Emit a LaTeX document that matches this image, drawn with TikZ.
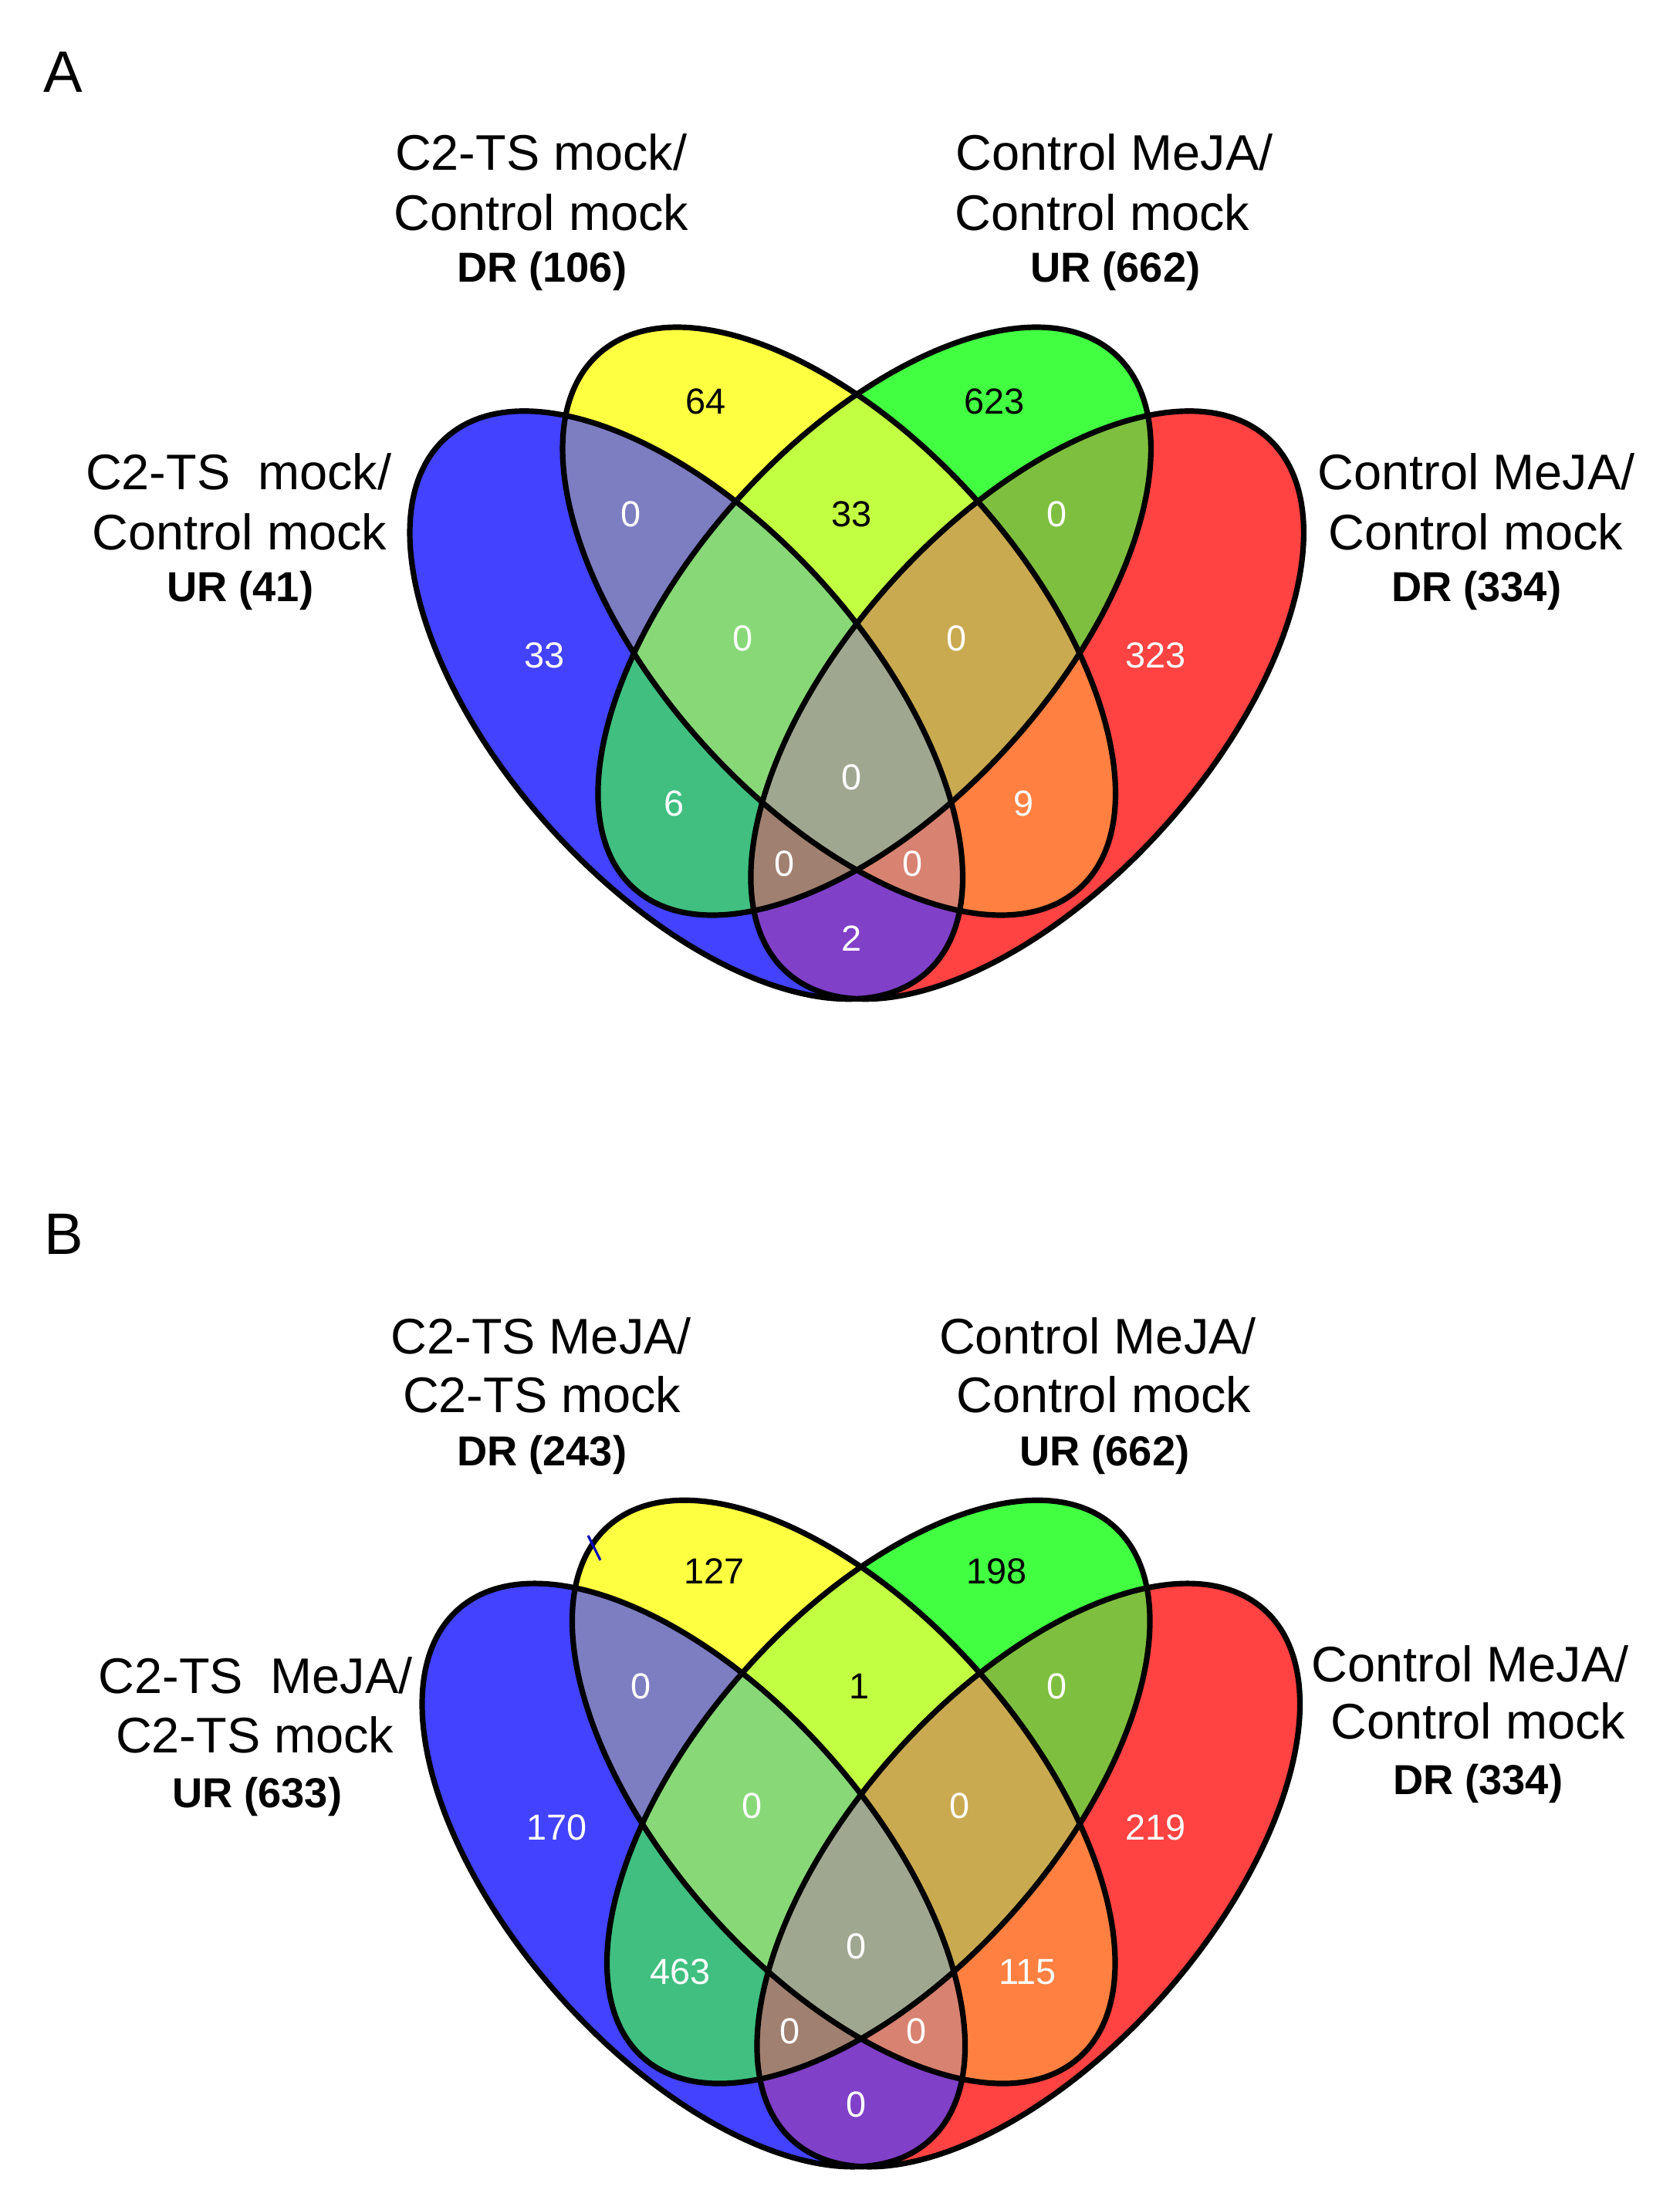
\documentclass[tikz,border=0pt]{standalone}
\usepackage{fontspec}
\setmainfont{Liberation Sans}
\definecolor{cB}{HTML}{4242FF}
\definecolor{cY}{HTML}{FFFF42}
\definecolor{cG}{HTML}{42FF42}
\definecolor{cR}{HTML}{FF4242}
\definecolor{cBY}{HTML}{7D7DC2}
\definecolor{cYG}{HTML}{C2FF42}
\definecolor{cGR}{HTML}{7FBF3F}
\definecolor{cBG}{HTML}{40BF80}
\definecolor{cBR}{HTML}{8040C8}
\definecolor{cYR}{HTML}{FF8040}
\definecolor{cBYG}{HTML}{88D878}
\definecolor{cYGR}{HTML}{CAAA50}
\definecolor{cBYR}{HTML}{D88272}
\definecolor{cBGR}{HTML}{A08070}
\definecolor{cBYGR}{HTML}{9FA790}
\newcommand\vnB[1]{\path[#1, rotate around={-48:(891.5,916)}] (891.5,916) ellipse [x radius=467, y radius=238];}
\newcommand\vnY[1]{\path[#1, rotate around={-48:(1090,807)}] (1090,807) ellipse [x radius=467, y radius=238];}
\newcommand\vnG[1]{\path[#1, rotate around={48:(1136,807)}] (1136,807) ellipse [x radius=467, y radius=238];}
\newcommand\vnR[1]{\path[#1, rotate around={48:(1334.5,916)}] (1334.5,916) ellipse [x radius=467, y radius=238];}
\newcommand\vnPanel{%
  \vnB{fill=cB}\vnY{fill=cY}\vnG{fill=cG}\vnR{fill=cR}
  \begin{scope}\vnB{clip}\vnY{fill=cBY}\vnG{fill=cBG}\vnR{fill=cBR}\end{scope}
  \begin{scope}\vnY{clip}\vnG{fill=cYG}\vnR{fill=cYR}\end{scope}
  \begin{scope}\vnG{clip}\vnR{fill=cGR}\end{scope}
  \begin{scope}\vnB{clip}\vnY{clip}\vnG{fill=cBYG}\vnR{fill=cBYR}\end{scope}
  \begin{scope}\vnB{clip}\vnG{clip}\vnR{fill=cBGR}\end{scope}
  \begin{scope}\vnY{clip}\vnG{clip}\vnR{fill=cYGR}\end{scope}
  \begin{scope}\vnB{clip}\vnY{clip}\vnG{clip}\vnR{fill=cBYGR}\end{scope}
  \vnB{outl}\vnY{outl}\vnG{outl}\vnR{outl}}
\begin{document}
\begin{tikzpicture}[x=0.25pt, y=-0.25pt,
  outl/.style={draw=black, line width=1.8pt},
  lbl/.style={font=\fontsize{16.25}{19}\selectfont, anchor=base, inner sep=0pt, text=black},
  cnt/.style={font=\bfseries\fontsize{13.6}{16}\selectfont, anchor=base, inner sep=0pt, text=black},
  num/.style={font=\fontsize{11.75}{14}\selectfont, text=white, inner sep=0pt},
  numk/.style={num, text=black},
  panel/.style={font=\fontsize{19}{22}\selectfont, anchor=base west, inner sep=0pt}]
\fill[white] (0,0) rectangle (2182,2864);
% ---------------- Panel A ----------------
\node[panel] (pA) at (56,120) {A};
\vnPanel
\node[lbl] (a1) at (703,221) {C2-TS mock/};
\node[lbl] (a2) at (703,299) {Control mock};
\node[cnt] (a3) at (704,366) {DR (106)};
\node[lbl] (a4) at (1448,221) {Control MeJA/};
\node[lbl] (a5) at (1432,299) {Control mock};
\node[cnt] (a6) at (1449,366) {UR (662)};
\node[lbl] (a7) at (310,636) {C2-TS\ \ mock/};
\node[lbl] (a8) at (311,714) {Control mock};
\node[cnt] (a9) at (312,781) {UR (41)};
\node[lbl] (a10) at (1918,636) {Control MeJA/};
\node[lbl] (a11) at (1917,714) {Control mock};
\node[cnt] (a12) at (1918,781) {DR (334)};
\node[numk] (na1) at (917,522) {64};
\node[numk] (na2) at (1292,522) {623};
\node[num] (na3) at (820,668) {0};
\node[numk] (na4) at (1106,668) {33};
\node[num] (na5) at (1373,668) {0};
\node[num] (na6) at (707,851) {33};
\node[num] (na7) at (965,829) {0};
\node[num] (na8) at (1243,829) {0};
\node[num] (na9) at (1501,851) {323};
\node[num] (na10) at (1106,1010) {0};
\node[num] (na11) at (876,1044) {6};
\node[num] (na12) at (1330,1044) {9};
\node[num] (na13) at (1019,1122) {0};
\node[num] (na14) at (1185,1122) {0};
\node[num] (na15) at (1106,1219) {2};
% ---------------- Panel B ----------------
\node[panel] (pB) at (57,1630) {B};
\begin{scope}[shift={(25.6,1527.4)}, xscale=0.982, yscale=0.992]
\vnPanel
\end{scope}
\draw[blue!75!black, line width=0.8pt] (764,1995) -- (780,2027);
\node[lbl] (b1) at (703,1759) {C2-TS MeJA/};
\node[lbl] (b2) at (704,1835) {C2-TS mock};
\node[cnt] (b3) at (704,1904) {DR (243)};
\node[lbl] (b4) at (1426,1759) {Control MeJA/};
\node[lbl] (b5) at (1434,1835) {Control mock};
\node[cnt] (b6) at (1435,1904) {UR (662)};
\node[lbl] (b7) at (332,2200) {C2-TS\ \ MeJA/};
\node[lbl] (b8) at (331,2277) {C2-TS mock};
\node[cnt] (b9) at (334,2348) {UR (633)};
\node[lbl] (b10) at (1910,2185) {Control MeJA/};
\node[lbl] (b11) at (1920,2259) {Control mock};
\node[cnt] (b12) at (1920,2331) {DR (334)};
\node[numk] (nb1) at (928,2041) {127};
\node[numk] (nb2) at (1295,2041) {198};
\node[num] (nb3) at (833,2191) {0};
\node[numk] (nb4) at (1116,2191) {1};
\node[num] (nb5) at (1373,2191) {0};
\node[num] (nb6) at (723,2374) {170};
\node[num] (nb7) at (977,2346) {0};
\node[num] (nb8) at (1247,2346) {0};
\node[num] (nb9) at (1501,2374) {219};
\node[num] (nb10) at (1112,2529) {0};
\node[num] (nb11) at (884,2562) {463};
\node[num] (nb12) at (1335,2562) {115};
\node[num] (nb13) at (1026,2639) {0};
\node[num] (nb14) at (1191,2639) {0};
\node[num] (nb15) at (1112,2734) {0};
\end{tikzpicture}
\end{document}
